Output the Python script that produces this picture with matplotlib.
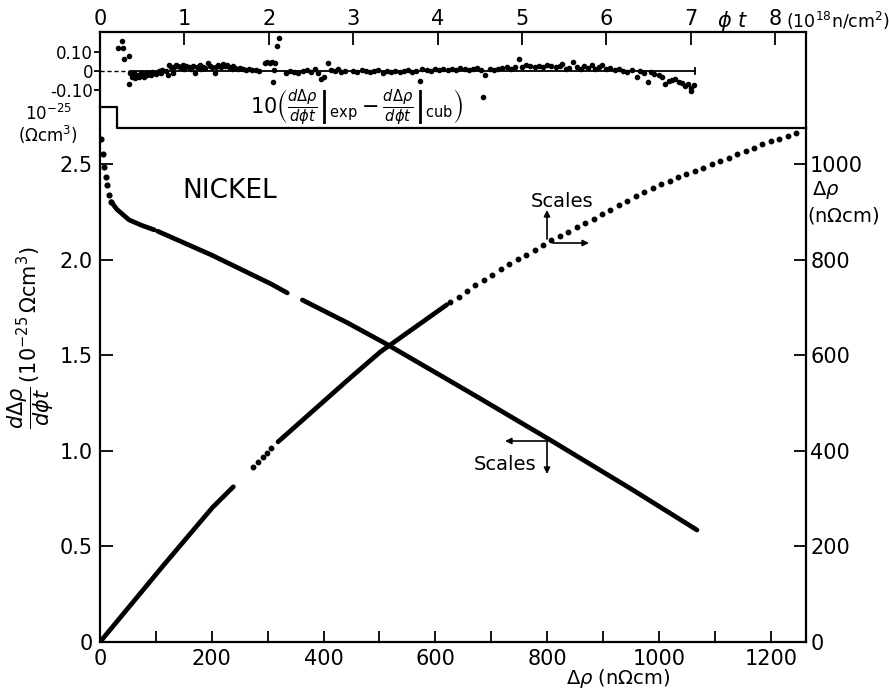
import matplotlib.pyplot as plt
from matplotlib.patches import FancyArrowPatch

plt.rcParams['font.family'] = 'DejaVu Sans'
plt.rcParams['mathtext.fontset'] = 'dejavusans'

# d(drho)/d(phi t) vs drho  -> bottom / left scales
rho_first = [2, 5, 7, 10, 13, 16, 20]
slope_first = [2.63, 2.555, 2.487, 2.435, 2.393, 2.34, 2.304]
rho_a = [20, 30, 52, 75, 97]
slope_a = [2.304, 2.265, 2.209, 2.18, 2.157]
rho_b = [103, 199, 306, 335]
slope_b = [2.15, 2.026, 1.874, 1.827]
rho_c = [362, 443, 509, 638, 679, 805, 953, 1068]
slope_c = [1.79, 1.67, 1.565, 1.346, 1.276, 1.058, 0.796, 0.586]

# drho vs phi t  -> top / right scales
phi_a = [0, 0.75, 1.33, 1.58]
drho_a = [0, 160, 281, 325]
phi_b = [1.81, 1.87, 1.93, 1.98, 2.03]
drho_b = [366, 377, 387, 396, 406]
phi_c = [2.11, 2.94, 3.32, 4.11]
drho_c = [419, 549, 607, 706]
phi_d = [4.15, 4.25, 4.35, 4.45, 4.55, 4.65, 4.75, 4.85, 4.95, 5.05,
         5.15, 5.25, 5.35, 5.45, 5.55, 5.65, 5.75, 5.85, 5.95, 6.05,
         6.15, 6.25, 6.35, 6.45, 6.55, 6.65, 6.75, 6.85, 6.95, 7.05,
         7.15, 7.25, 7.35, 7.45, 7.55, 7.65, 7.75, 7.85, 7.95, 8.05,
         8.15, 8.25]
drho_d = [711, 723, 735, 747, 758, 769, 780, 791, 801, 811,
          821, 831, 841, 850, 859, 868, 877, 886, 895, 904,
          915, 924, 933, 942, 950, 958, 966, 973, 980, 986,
          993, 1000, 1007, 1014, 1021, 1028, 1035, 1042, 1048, 1054,
          1060, 1065]

# residuals 10*(exp - cub)
res_phi = [0.21, 0.26, 0.27, 0.28, 0.34, 0.34, 0.36, 0.38, 0.40, 0.42,
           0.44, 0.46, 0.48, 0.50, 0.52, 0.54, 0.56, 0.58, 0.60, 0.62,
           0.64, 0.66, 0.68, 0.70, 0.72, 0.74, 0.78, 0.80, 0.82, 0.84,
           0.86, 0.88, 0.90, 0.92, 0.95, 0.98, 1.00, 1.02, 1.05, 1.08,
           1.10, 1.12, 1.15, 1.18, 1.20, 1.22, 1.25, 1.28, 1.30, 1.33,
           1.36, 1.38, 1.40, 1.43, 1.46, 1.48, 1.50, 1.53, 1.56, 1.58,
           1.60, 1.63, 1.66, 1.70, 1.73, 1.76, 1.80, 1.85, 1.88, 1.95,
           1.98, 2.01, 2.04, 2.05, 2.06, 2.07, 2.10, 2.12, 2.20, 2.25,
           2.30, 2.35, 2.40, 2.45, 2.50, 2.55, 2.58, 2.62, 2.66, 2.70,
           2.74, 2.78, 2.82, 2.86, 2.90, 3.00, 3.05, 3.10, 3.15, 3.20,
           3.25, 3.30, 3.35, 3.40, 3.45, 3.50, 3.55, 3.60, 3.65, 3.70,
           3.75, 3.79, 3.82, 3.87, 3.92, 3.97, 4.02, 4.07, 4.12, 4.17,
           4.22, 4.27, 4.32, 4.37, 4.42, 4.47, 4.52, 4.54, 4.56, 4.62,
           4.67, 4.72, 4.77, 4.82, 4.87, 4.92, 4.96, 5.00, 5.05, 5.10,
           5.15, 5.20, 5.25, 5.30, 5.35, 5.40, 5.45, 5.48, 5.52, 5.56,
           5.61, 5.65, 5.70, 5.74, 5.78, 5.83, 5.87, 5.91, 5.95, 6.00,
           6.05, 6.10, 6.15, 6.20, 6.25, 6.30, 6.36, 6.40, 6.45, 6.49,
           6.53, 6.57, 6.62, 6.66, 6.70, 6.74, 6.78, 6.82, 6.86, 6.90,
           6.93, 6.97, 7.00, 7.01, 7.04]
res_val = [0.12, 0.16, 0.12, 0.065, 0.08, -0.07, -0.01, -0.03, -0.01, -0.04,
           -0.02, -0.03, -0.01, -0.02, -0.03, -0.01, -0.02, -0.01, -0.02, -0.005,
           -0.01, -0.015, -0.01, 0.0, -0.01, 0.005, 0.0, -0.02, 0.03, 0.02,
           -0.01, 0.02, 0.03, 0.025, 0.02, 0.03, 0.01, 0.025, 0.02, 0.01,
           0.025, -0.01, 0.02, 0.03, 0.01, 0.02, 0.015, 0.04, 0.025, 0.02,
           -0.01, 0.02, 0.03, 0.02, 0.035, 0.025, 0.03, 0.02, 0.01, 0.025,
           0.015, 0.01, 0.015, 0.01, 0.005, 0.01, 0.005, 0.005, 0.0, 0.04,
           0.045, 0.04, 0.045, -0.06, 0.005, 0.04, 0.135, 0.175, -0.01, 0.0,
           -0.005, -0.01, 0.0, 0.005, -0.005, 0.01, -0.01, -0.045, -0.03, 0.04,
           0.005, 0.0, 0.01, -0.005, 0.0, 0.0, -0.005, 0.005, 0.0, -0.005,
           0.0, 0.005, -0.01, 0.0, -0.005, 0.0, -0.005, 0.0, 0.005, -0.005,
           0.0, -0.055, 0.01, 0.005, 0.0, 0.01, 0.005, 0.01, 0.005, 0.01,
           0.005, 0.015, 0.01, 0.005, 0.01, 0.015, 0.005, -0.14, -0.02, 0.01,
           0.005, 0.01, 0.015, 0.02, 0.01, 0.02, 0.065, 0.02, 0.03, 0.025,
           0.02, 0.025, 0.02, 0.03, 0.025, 0.02, 0.025, 0.035, 0.01, 0.015,
           0.045, 0.02, 0.01, 0.025, 0.015, 0.03, 0.01, 0.02, 0.03, 0.01,
           0.015, 0.005, 0.01, 0.0, -0.005, 0.005, -0.03, 0.0, -0.01, -0.06,
           -0.005, -0.015, -0.02, -0.03, -0.07, -0.055, -0.05, -0.045, -0.06, -0.065,
           -0.08, -0.07, -0.09, -0.105, -0.075]

W, H = 889, 693


def fx(px):
    return px / W


def fy(py):
    return 1 - py / H


fig = plt.figure(figsize=(W / 100, H / 100), dpi=100)
left, right = fx(100), fx(806)
main_rect = [left, fy(642), right - left, fy(128) - fy(642)]
ax = fig.add_axes(main_rect)
axp = fig.add_axes(main_rect, frameon=False)
axr = fig.add_axes([left, fy(128), right - left, fy(32) - fy(128)])

lw_spine = 1.6
tk = dict(width=1.3, colors='k')
lab = dict(labelsize=15)

# ---- main axes: bottom / left
ax.set_xlim(0, 1263)
ax.set_ylim(0, 2.69)
ax.set_xticks(range(0, 1201, 200))
ax.set_xticks(range(100, 1201, 200), minor=True)
ax.tick_params(axis='x', which='both', direction='in', length=8, pad=5, **tk, **lab)
ax.set_yticks([0, 0.5, 1.0, 1.5, 2.0, 2.5])
ax.set_yticklabels(['0', '0.5', '1.0', '1.5', '2.0', '2.5'])
ax.tick_params(axis='y', direction='in', length=9, pad=5, **tk, **lab)
ax.spines['top'].set_visible(False)
for s in ['left', 'right', 'bottom']:
    ax.spines[s].set_linewidth(lw_spine)

sec = ax.secondary_xaxis('top')
sec.set_xticks(range(100, 1201, 100))
sec.tick_params(direction='out', length=6, labeltop=False, **tk)
sec.spines['top'].set_visible(False)

ax.plot(rho_first, slope_first, 'o', ms=3.4, color='k')
for xs, ys in [(rho_a, slope_a), (rho_b, slope_b), (rho_c, slope_c)]:
    ax.plot(xs, ys, '-', lw=3.4, color='k', solid_capstyle='round')

# ---- overlay axes: phi t / drho
axp.set_xlim(0, 8.367)
axp.set_ylim(0, 1076)
axp.xaxis.set_visible(False)
axp.yaxis.tick_right()
axp.set_yticks(range(0, 1001, 200))
axp.tick_params(axis='y', direction='in', length=9, pad=3, **tk, **lab)
axp.plot(phi_a, drho_a, '-', lw=3.4, color='k', solid_capstyle='round')
axp.plot(phi_b, drho_b, 'o', ms=3.2, color='k')
axp.plot(phi_c, drho_c, '-', lw=3.4, color='k', solid_capstyle='round')
axp.plot(phi_d, drho_d, 'o', ms=3.2, color='k')

# ---- residual panel
axr.set_xlim(0, 8.367)
axr.set_ylim(-0.303, 0.207)
axr.xaxis.tick_top()
axr.set_xticks(range(0, 9))
axr.tick_params(axis='x', direction='in', length=9, pad=2, **tk, **lab)
axr.set_yticks([0.1, 0, -0.1])
axr.set_yticklabels(['0.10', '0', '-0.10'])
axr.tick_params(axis='y', direction='out', length=4, pad=1, labelsize=12, **tk)
axr.spines['bottom'].set_visible(False)
for s in ['left', 'right', 'top']:
    axr.spines[s].set_linewidth(lw_spine)
# stepped lower edge of the residual box
axr.plot([0, 0.024, 0.024, 1], [0.219, 0.219, 0, 0], transform=axr.transAxes,
         color='k', lw=lw_spine, clip_on=False)

axr.plot([0, 0.35], [0, 0], '-', color='k', lw=1.0, dashes=(3, 2))
axr.plot([0.35, 7.05], [0, 0], '-', color='k', lw=1.3)
axr.plot([7.05, 7.05], [-0.018, 0.018], '-', color='k', lw=1.3)
axr.plot(res_phi, res_val, 'o', ms=3.0, color='k')

# ---- texts
fig.text(fx(733), fy(21), r'$\phi\ t$', ha='center', va='center', fontsize=15)
fig.text(fx(786), fy(21), r'(10$^{18}$n/cm$^2$)', ha='left', va='center', fontsize=12.5)
fig.text(fx(48), fy(125), '10$^{-25}$\n($\\Omega$cm$^3$)', ha='center', va='center',
         fontsize=12, linespacing=1.0)
fig.text(fx(357), fy(108),
         r'$10\left(\left.\frac{d\Delta\rho}{d\phi t}\right|_{\mathrm{exp}}'
         r'-\left.\frac{d\Delta\rho}{d\phi t}\right|_{\mathrm{cub}}\right)$',
         ha='center', va='center', fontsize=15)
fig.text(fx(230), fy(191), 'NICKEL', ha='center', va='center', fontsize=19)
fig.text(fx(31), fy(338),
         r'$\dfrac{d\Delta\rho}{d\phi t}\,(10^{-25}\,\Omega\mathrm{cm}^3)$',
         ha='center', va='center', rotation=90, fontsize=15)
fig.text(fx(618), fy(679), r'$\Delta\rho$ (n$\Omega$cm)', ha='center', va='center',
         fontsize=14)
fig.text(fx(812), fy(190), r'$\Delta\rho$', ha='left', va='center', fontsize=14)
fig.text(fx(807), fy(215), r'(n$\Omega$cm)', ha='left', va='center', fontsize=14)

fig.text(fx(562), fy(201), 'Scales', ha='center', va='center', fontsize=14)
fig.text(fx(505), fy(464), 'Scales', ha='center', va='center', fontsize=14)
arr = dict(arrowstyle='-|>', lw=1.2, color='k', mutation_scale=9, shrinkA=0, shrinkB=0)
for start, end in [((547, 239), (547, 210)), ((553, 243), (589, 243)),
                   ((547, 441), (505, 441)), ((547, 441), (547, 474))]:
    fig.add_artist(FancyArrowPatch((fx(start[0]), fy(start[1])),
                                   (fx(end[0]), fy(end[1])),
                                   transform=fig.transFigure, **arr))

fig.savefig('out.png', dpi=100)
